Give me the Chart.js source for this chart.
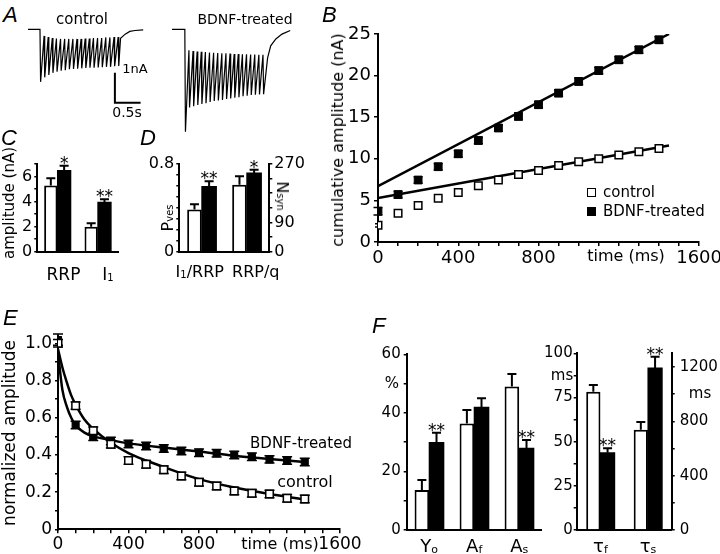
<!DOCTYPE html>
<html>
<head>
<meta charset="utf-8">
<script src="https://cdn.jsdelivr.net/npm/chart.js@4.4.1/dist/chart.umd.min.js"></script>
<style>
  html, body { margin: 0; padding: 0; background: #fff; overflow: hidden; }
  #fig { position: relative; width: 720px; height: 554px; overflow: hidden; background: #fff;
         font-family: "DejaVu Sans", sans-serif; color: #000; }
  #fig canvas { position: absolute; }
  .t { position: absolute; white-space: nowrap; line-height: 1; z-index: 2; }
  .c { transform: translate(-50%, -50%); }
  .l { transform: translate(0, -50%); }
  .rot { transform: translate(-50%, -50%) rotate(-90deg); }
  .rotcw { transform: translate(-50%, -50%) rotate(90deg); }
  .panel { font-family: "Liberation Sans", sans-serif; font-style: italic; font-size: 22px; }
  .t sub { font-size: 0.62em; vertical-align: -0.05em; }
  .sq { position: absolute; width: 9px; height: 9px; box-sizing: border-box; border: 1.5px solid #000; z-index: 2; }
</style>
</head>
<body>
<div id="fig">
  <!-- A -->
  <div class="t panel" style="left:3px;top:4px">A</div>
  <div class="t c" style="left:82px;top:19px;font-size:15px">control</div>
  <div class="t c" style="left:245px;top:19px;font-size:14px">BDNF-treated</div>
  <div class="t c" style="left:135px;top:68px;font-size:13px">1nA</div>
  <div class="t c" style="left:127px;top:112px;font-size:14px">0.5s</div>
  <!-- B -->
  <div class="t panel" style="left:322px;top:4px">B</div>
  <div class="t rot" style="left:338px;top:140px;font-size:16px">cumulative amplitude (nA)</div>
  <div class="t c" style="left:626px;top:256px;font-size:16px">time (ms)</div>
  <div class="sq" style="left:587px;top:188px;background:#fff"></div>
  <div class="t l" style="left:603px;top:192px;font-size:15px">control</div>
  <div class="sq" style="left:587px;top:207px;background:#000"></div>
  <div class="t l" style="left:603px;top:211px;font-size:15px">BDNF-treated</div>
  <!-- C -->
  <div class="t panel" style="left:1px;top:127px">C</div>
  <div class="t rot" style="left:9px;top:203px;font-size:15px">amplitude (nA)</div>
  <!-- D -->
  <div class="t panel" style="left:140px;top:127px">D</div>
  <div class="t rot" style="left:168px;top:218px;font-size:16px">P<sub>ves</sub></div>
  <div class="t rotcw" style="left:282px;top:196px;font-size:16px">N<sub>syn</sub></div>
  <!-- E -->
  <div class="t panel" style="left:3px;top:307px">E</div>
  <div class="t rot" style="left:9px;top:433px;font-size:17px">normalized amplitude</div>
  <div class="t c" style="left:280px;top:544px;font-size:16px">time (ms)</div>
  <div class="t c" style="left:301px;top:443px;font-size:15px">BDNF-treated</div>
  <div class="t c" style="left:305px;top:482px;font-size:16px">control</div>
  <!-- F -->
  <div class="t panel" style="left:372px;top:315px">F</div>
  <div class="t c" style="left:392px;top:383px;font-size:15px">%</div>
  <div class="t c" style="left:562px;top:375px;font-size:15px">ms</div>
  <div class="t c" style="left:700px;top:393px;font-size:15px">ms</div>
</div>
<script>
const FONT = '"DejaVu Sans", sans-serif';

// ===== A: example current traces (nA vs s) =====
const TRAIN_DT = 0.08;
const A_CTRL_START = 0;
const A_CTRL_ON = 0.233;
const A_CTRL_TOPS = [0, -0.22, -0.26, -0.29, -0.31, -0.32, -0.32, -0.32, -0.32, -0.32, -0.32, -0.31, -0.31, -0.29, -0.29, -0.29, -0.27, -0.27, -0.26, -0.26];
const A_CTRL_PEAKS = [-1.75, -1.60, -1.52, -1.45, -1.41, -1.38, -1.36, -1.33, -1.32, -1.31, -1.30, -1.29, -1.28, -1.28, -1.27, -1.26, -1.25, -1.25, -1.23, -1.22];
const A_CTRL_TAIL_T = [1.80, 1.89, 1.98, 2.08, 2.24];
const A_CTRL_TAIL_V = [-0.30, -0.16, -0.07, -0.04, -0.02];
const A_BDNF_START = 2.80;
const A_BDNF_ON = 3.05;
const A_BDNF_TOPS = [0, -0.70, -0.72, -0.74, -0.75, -0.76, -0.77, -0.78, -0.79, -0.80, -0.80, -0.81, -0.82, -0.82, -0.83, -0.83, -0.84, -0.84, -0.85, -0.85];
const A_BDNF_PEAKS = [-3.41, -2.60, -2.56, -2.52, -2.49, -2.46, -2.42, -2.39, -2.37, -2.35, -2.32, -2.30, -2.28, -2.26, -2.23, -2.21, -2.19, -2.18, -2.17, -2.16];
const A_BDNF_TAIL_T = [4.66, 4.72, 4.82, 4.94, 5.10];
const A_BDNF_TAIL_V = [-0.95, -0.55, -0.32, -0.16, -0.04];
const A_BAR_X = [1.69, 1.69, 2.19];   // 0.5 s
const A_BAR_Y = [-1.45, -2.45, -2.45]; // 1 nA

// ===== B: cumulative amplitude =====
const B_T = [0, 100, 200, 300, 400, 500, 600, 700, 800, 900, 1000, 1100, 1200, 1300, 1400];
const B_CTRL = [2.0, 3.45, 4.4, 5.25, 5.95, 6.75, 7.45, 8.1, 8.6, 9.2, 9.65, 10.0, 10.45, 10.85, 11.25];
const B_CTRL_ERR = [0.2, 0.2, 0.2, 0.2, 0.2, 0.2, 0.2, 0.2, 0.2, 0.2, 0.2, 0.2, 0.2, 0.2, 0.2];
const B_BDNF = [3.7, 5.7, 7.45, 9.05, 10.6, 12.2, 13.7, 15.1, 16.5, 17.9, 19.3, 20.6, 21.9, 23.1, 24.3];
const B_BDNF_ERR = [0.45, 0.4, 0.4, 0.4, 0.4, 0.4, 0.4, 0.4, 0.4, 0.4, 0.4, 0.4, 0.4, 0.4, 0.4];
const B_FIT_T = [0, 1450];
const B_FIT_CTRL = [5.3, 11.6];
const B_FIT_BDNF = [6.7, 25.0];
const B_Y_TICKS = [0, 5, 10, 15, 20, 25];
const B_X_TICKS = [0, 100, 200, 300, 400, 500, 600, 700, 800, 900, 1000, 1100, 1200, 1300, 1400, 1500, 1600];
const B_X_LABELS = [0, 400, 800, 1600];

// ===== C: amplitudes =====
const C_CATS = ['RRP', 'I_1'];
const C_CTRL = [5.3, 2.0];
const C_CTRL_ERR = [0.57, 0.27];
const C_BDNF = [6.5, 3.95];
const C_BDNF_ERR = [0.38, 0.25];
const C_SIG = ['*', '**'];
const C_Y_TICKS = [0, 1, 2, 3, 4, 5, 6, 7];
const C_Y_LABELS = [0, 2, 4, 6];

// ===== D: Pves and Nsyn =====
const D_CATS = ['I_1/RRP', 'RRP/q'];
const D_P_CTRL = [0.386, null];
const D_P_CTRL_ERR = [0.046, 0];
const D_P_BDNF = [0.595, null];
const D_P_BDNF_ERR = [0.048, 0];
const D_N_CTRL = [null, 206];
const D_N_CTRL_ERR = [0, 26];
const D_N_BDNF = [null, 242.5];
const D_N_BDNF_ERR = [0, 10];
const D_SIG = ['**', '*'];
const D_P_TICKS = [0, 0.1, 0.2, 0.3, 0.4, 0.5, 0.6, 0.7, 0.8];
const D_P_LABELS = [0, 0.8];
const D_N_TICKS = [0, 45, 90, 135, 180, 225, 270];
const D_N_LABELS = [0, 90, 270];

// ===== E: normalized amplitude =====
const E_T = [0, 100, 200, 300, 400, 500, 600, 700, 800, 900, 1000, 1100, 1200, 1300, 1400];
const E_CTRL = [1.0, 0.665, 0.53, 0.457, 0.37, 0.35, 0.32, 0.287, 0.253, 0.233, 0.206, 0.194, 0.19, 0.167, 0.163];
const E_CTRL_ERR = [0.02, 0.02, 0.02, 0.02, 0.02, 0.02, 0.02, 0.02, 0.02, 0.02, 0.02, 0.02, 0.02, 0.02, 0.02];
const E_BDNF = [1.02, 0.561, 0.498, 0.475, 0.459, 0.448, 0.434, 0.421, 0.412, 0.409, 0.40, 0.39, 0.376, 0.37, 0.362];
const E_BDNF_ERR = [0.03, 0.02, 0.02, 0.02, 0.02, 0.02, 0.02, 0.02, 0.02, 0.02, 0.02, 0.02, 0.02, 0.02, 0.02];
const E_FIT_T = [0, 25, 50, 75, 100, 150, 200, 300, 400, 500, 600, 800, 1000, 1200, 1400];
const E_FIT_CTRL = [0.97, 0.87, 0.79, 0.72, 0.67, 0.59, 0.54, 0.465, 0.41, 0.37, 0.335, 0.27, 0.225, 0.19, 0.16];
const E_FIT_BDNF = [0.95, 0.75, 0.66, 0.60, 0.56, 0.52, 0.50, 0.48, 0.462, 0.45, 0.44, 0.418, 0.396, 0.378, 0.362];
const E_Y_TICKS = [0, 0.1, 0.2, 0.3, 0.4, 0.5, 0.6, 0.7, 0.8, 0.9, 1.0];
const E_Y_LABELS = [0, 0.2, 0.4, 0.6, 0.8, 1.0];

// ===== F: fit parameters =====
const F_L_CATS = ['Y_o', 'A_f', 'A_s'];
const F_L_CTRL = [13.7, 36.4, 49.0];
const F_L_CTRL_ERR = [3.4, 4.6, 4.3];
const F_L_BDNF = [29.9, 41.9, 27.9];
const F_L_BDNF_ERR = [3.3, 3.1, 2.8];
const F_L_SIG = ['**', '', '**'];
const F_L_TICKS = [0, 10, 20, 30, 40, 50, 60];
const F_L_LABELS = [0, 20, 40, 60];
const F_R_CATS = ['τ_f', 'τ_s'];
const F_TAUF_CTRL = [78.3, null];
const F_TAUF_CTRL_ERR = [3.7, 0];
const F_TAUF_BDNF = [43.7, null];
const F_TAUF_BDNF_ERR = [2.5, 0];
const F_TAUS_CTRL = [null, 737];
const F_TAUS_CTRL_ERR = [0, 57];
const F_TAUS_BDNF = [null, 1192];
const F_TAUS_BDNF_ERR = [0, 82];
const F_R_SIG = ['**', '**'];
const F_MS_TICKS = [0, 12.5, 25, 37.5, 50, 62.5, 75, 87.5, 100];
const F_MS_LABELS = [0, 25, 50, 75, 100];
const F_MS2_TICKS = [0, 200, 400, 600, 800, 1000, 1200];
const F_MS2_LABELS = [0, 400, 800, 1200];

// ---------- helpers ----------
const xy = (xs, ys) => xs.map((x, i) => ({ x, y: ys[i] }));

function trainPoints(start, on, tops, peaks, tailT, tailV) {
    const pts = [{ x: start, y: 0 }];
    peaks.forEach((p, i) => {
        const t = on + i * TRAIN_DT;
        pts.push({ x: t, y: tops[i] });
        pts.push({ x: t + 0.012, y: p });
    });
    return pts.concat(xy(tailT, tailV));
}

function parseSub(s) {
    const out = [];
    let i = 0;
    while (i < s.length) {
        if (s[i] === '_') { out.push([s[i + 1], true]); i += 2; }
        else {
            let j = i;
            while (j < s.length && s[j] !== '_') j++;
            out.push([s.slice(i, j), false]);
            i = j;
        }
    }
    return out;
}

function drawRich(ctx, text, cx, baseY, size) {
    const segs = parseSub(text);
    const fonts = segs.map(s => `${s[1] ? Math.round(size * 0.6) : size}px ${FONT}`);
    let total = 0;
    const widths = segs.map((s, i) => { ctx.font = fonts[i]; const w = ctx.measureText(s[0]).width; total += w; return w; });
    let x = cx - total / 2;
    ctx.save();
    ctx.fillStyle = '#000';
    ctx.textAlign = 'left';
    ctx.textBaseline = 'alphabetic';
    segs.forEach((s, i) => {
        ctx.font = fonts[i];
        ctx.fillText(s[0], x, baseY + (s[1] ? 1 : 0));
        x += widths[i];
    });
    ctx.restore();
}

// error bars, significance stars, rich x labels
const extras = {
    id: 'extras',
    beforeDatasetsDraw(chart) {
        const ctx = chart.ctx;
        chart.data.datasets.forEach((ds, di) => {
            if (!ds.yErr) return;
            const meta = chart.getDatasetMeta(di);
            const ys = chart.scales[meta.yAxisID];
            ctx.save();
            ctx.strokeStyle = '#000';
            ctx.lineWidth = 1.5;
            meta.data.forEach((pt, i) => {
                const v = ds.data[i].y, e = ds.yErr[i];
                const y1 = ys.getPixelForValue(v + e), y2 = ys.getPixelForValue(v - e);
                const hw = ds.capW / 2;
                ctx.beginPath();
                ctx.moveTo(pt.x, y1); ctx.lineTo(pt.x, y2);
                ctx.moveTo(pt.x - hw, y1); ctx.lineTo(pt.x + hw, y1);
                ctx.moveTo(pt.x - hw, y2); ctx.lineTo(pt.x + hw, y2);
                ctx.stroke();
            });
            ctx.restore();
        });
    },
    afterDatasetsDraw(chart) {
        const ctx = chart.ctx;
        chart.data.datasets.forEach((ds, di) => {
            if (!ds.err) return;
            const meta = chart.getDatasetMeta(di);
            const ys = chart.scales[meta.yAxisID];
            meta.data.forEach((bar, i) => {
                const v = ds.data[i];
                if (v == null) return;
                const top = ys.getPixelForValue(v + ds.err[i]);
                ctx.save();
                ctx.strokeStyle = '#000';
                ctx.lineWidth = 2;
                ctx.beginPath();
                ctx.moveTo(bar.x, bar.y); ctx.lineTo(bar.x, top);
                ctx.moveTo(bar.x - 4.5, top); ctx.lineTo(bar.x + 4.5, top);
                ctx.stroke();
                if (ds.sig && ds.sig[i]) {
                    ctx.fillStyle = '#000';
                    ctx.font = `17px ${FONT}`;
                    ctx.textAlign = 'center';
                    ctx.textBaseline = 'alphabetic';
                    ctx.fillText(ds.sig[i], bar.x, top + 3);
                }
                ctx.restore();
            });
        });
    },
    afterDraw(chart, args, opts) {
        if (!opts || !opts.labels) return;
        const xs = chart.scales.x;
        opts.labels.forEach((lab, i) => drawRich(chart.ctx, lab,
            xs.getPixelForValue(i) + (opts.dx ? opts.dx[i] : 0), chart.chartArea.bottom + opts.dy, opts.size));
    }
};
Chart.register(extras);

function linAxis(o) {
    return {
        type: 'linear', position: o.pos || 'left', min: o.min, max: o.max,
        afterBuildTicks: ax => { ax.ticks = o.ticks.map(v => ({ value: v })); },
        afterFit: ax => { if (ax.isHorizontal()) ax.height = o.box; else ax.width = o.box; },
        ticks: {
            autoSkip: false, maxRotation: 0, padding: o.pad == null ? 3 : o.pad, color: '#000',
            font: { family: FONT, size: o.font || 16 },
            callback: v => o.labels.includes(v) ? (o.fmt ? o.fmt(v) : String(v)) : ''
        },
        grid: { display: true, drawOnChartArea: false, drawTicks: true, tickLength: o.tick || 4, color: '#000', lineWidth: 1.5 },
        border: { display: true, color: '#000', width: 2 }
    };
}

function catAxis(h) {
    return {
        type: 'category', position: 'bottom', offset: true,
        afterFit: ax => { ax.height = h; },
        ticks: { display: false },
        grid: { display: false, drawTicks: false },
        border: { display: true, color: '#000', width: 2 }
    };
}

// open bars get a drawn outline; solid bars are filled only (no inner seam)
function barSet(data, err, sig, fill, axis, pct) {
    const solid = fill === '#000';
    return {
        data, err, sig, yAxisID: axis, backgroundColor: fill, borderColor: '#000',
        borderWidth: solid ? 0 : 2, inflateAmount: solid ? 0.5 : 0,
        barPercentage: 1, categoryPercentage: pct, skipNull: true
    };
}

function addChart(left, top, w, h, config) {
    const c = document.createElement('canvas');
    c.width = w; c.height = h;
    c.style.left = left + 'px'; c.style.top = top + 'px';
    c.style.width = w + 'px'; c.style.height = h + 'px';
    document.getElementById('fig').appendChild(c);
    config.options = Object.assign({ responsive: false, animation: false, devicePixelRatio: 1, events: [] }, config.options);
    config.options.plugins = Object.assign({ legend: { display: false }, tooltip: { enabled: false } }, config.options.plugins);
    return new Chart(c, config);
}

const noLegend = { legend: { display: false }, tooltip: { enabled: false } };

// ---------- A ----------
addChart(28, 20, 272, 115, {
    type: 'scatter',
    data: { datasets: [
        { data: trainPoints(A_CTRL_START, A_CTRL_ON, A_CTRL_TOPS, A_CTRL_PEAKS, A_CTRL_TAIL_T, A_CTRL_TAIL_V), showLine: true, pointRadius: 0, borderColor: '#000', borderWidth: 1.2 },
        { data: trainPoints(A_BDNF_START, A_BDNF_ON, A_BDNF_TOPS, A_BDNF_PEAKS, A_BDNF_TAIL_T, A_BDNF_TAIL_V), showLine: true, pointRadius: 0, borderColor: '#000', borderWidth: 1.2 },
        { data: xy(A_BAR_X, A_BAR_Y), showLine: true, pointRadius: 0, borderColor: '#000', borderWidth: 2 }
    ] },
    options: {
        layout: { padding: 0 },
        scales: {
            x: { type: 'linear', display: false, min: 0, max: 5.29 },
            y: { type: 'linear', display: false, min: -3.52, max: 0.31 }
        }
    }
});

// ---------- B ----------
addChart(320, 20, 404, 262, {
    type: 'scatter',
    data: { datasets: [
        { data: xy(B_T, B_BDNF), yErr: B_BDNF_ERR, capW: 9, pointStyle: 'rect', pointRadius: 5.5, pointBackgroundColor: '#000', pointBorderColor: '#000', pointBorderWidth: 1 },
        { data: xy(B_T, B_CTRL), yErr: B_CTRL_ERR, capW: 6, pointStyle: 'rect', pointRadius: 5.3, pointBackgroundColor: '#fff', pointBorderColor: '#000', pointBorderWidth: 1.5 },
        { data: xy(B_FIT_T, B_FIT_BDNF), showLine: true, pointRadius: 0, borderColor: '#000', borderWidth: 2.5 },
        { data: xy(B_FIT_T, B_FIT_CTRL), showLine: true, pointRadius: 0, borderColor: '#000', borderWidth: 2.5 }
    ] },
    options: {
        layout: { padding: { left: 0, top: 14, right: 24, bottom: 0 } },
        scales: {
            x: linAxis({ pos: 'bottom', min: 0, max: 1600, ticks: B_X_TICKS, labels: B_X_LABELS, box: 40, font: 18, pad: 2 }),
            y: linAxis({ min: 0, max: 25, ticks: B_Y_TICKS, labels: B_Y_TICKS, box: 58, font: 18, pad: 3 })
        }
    }
});

// ---------- C ----------
addChart(0, 140, 125, 146, {
    type: 'bar',
    data: { labels: C_CATS, datasets: [
        barSet(C_CTRL, C_CTRL_ERR, null, '#fff', 'y', 0.66),
        barSet(C_BDNF, C_BDNF_ERR, C_SIG, '#000', 'y', 0.66)
    ] },
    options: {
        layout: { padding: { left: 0, top: 24.2, right: 7, bottom: 0 } },
        plugins: Object.assign({ extras: { labels: C_CATS, dx: [6, 10], dy: 28.3, size: 17 } }, noLegend),
        scales: {
            x: catAxis(34.3),
            y: linAxis({ min: 0, max: 7, ticks: C_Y_TICKS, labels: C_Y_LABELS, box: 37.3, font: 16, tick: 3, pad: 2 })
        }
    }
});

// ---------- D ----------
addChart(125, 140, 185, 146, {
    type: 'bar',
    data: { labels: D_CATS, datasets: [
        barSet(D_P_CTRL, D_P_CTRL_ERR, null, '#fff', 'y', 0.65),
        barSet(D_P_BDNF, D_P_BDNF_ERR, [D_SIG[0], ''], '#000', 'y', 0.65),
        barSet(D_N_CTRL, D_N_CTRL_ERR, null, '#fff', 'y2', 0.65),
        barSet(D_N_BDNF, D_N_BDNF_ERR, ['', D_SIG[1]], '#000', 'y2', 0.65)
    ] },
    options: {
        layout: { padding: { left: 0, top: 24, right: 0, bottom: 0 } },
        plugins: Object.assign({ extras: { labels: D_CATS, dx: [-2, 9], dy: 25, size: 16 } }, noLegend),
        scales: {
            x: catAxis(34.3),
            y: linAxis({ min: 0, max: 0.8, ticks: D_P_TICKS, labels: D_P_LABELS, box: 54.3, font: 16, tick: 3, pad: 2 }),
            y2: linAxis({ pos: 'right', min: 0, max: 270, ticks: D_N_TICKS, labels: D_N_LABELS, box: 40.7, font: 16, tick: 3, pad: 2 })
        }
    }
});

// ---------- E ----------
addChart(0, 300, 364, 254, {
    type: 'scatter',
    data: { datasets: [
        { data: xy(E_T, E_CTRL), yErr: E_CTRL_ERR, capW: 10, pointStyle: 'rect', pointRadius: 5.3, pointBackgroundColor: '#fff', pointBorderColor: '#000', pointBorderWidth: 1.5 },
        { data: xy(E_T, E_BDNF), yErr: E_BDNF_ERR, capW: 10, pointStyle: 'rect', pointRadius: 5, pointBackgroundColor: '#000', pointBorderColor: '#000', pointBorderWidth: 1 },
        { data: xy(E_FIT_T, E_FIT_CTRL), showLine: true, pointRadius: 0, borderColor: '#000', borderWidth: 2.5, cubicInterpolationMode: 'monotone' },
        { data: xy(E_FIT_T, E_FIT_BDNF), showLine: true, pointRadius: 0, borderColor: '#000', borderWidth: 2.5, cubicInterpolationMode: 'monotone' }
    ] },
    options: {
        layout: { padding: { left: 0, top: 35.9, right: 24, bottom: 0 } },
        scales: {
            x: linAxis({ pos: 'bottom', min: 0, max: 1600, ticks: B_X_TICKS, labels: B_X_LABELS, box: 24.7, font: 17, pad: 1 }),
            y: linAxis({ min: 0, max: 1.04, ticks: E_Y_TICKS, labels: E_Y_LABELS, box: 58, font: 17, tick: 3, pad: 3,
                fmt: v => v === 0 ? '0' : v.toFixed(1) })
        }
    }
});

// ---------- F (percent parameters) ----------
addChart(360, 300, 185, 254, {
    type: 'bar',
    data: { labels: F_L_CATS, datasets: [
        barSet(F_L_CTRL, F_L_CTRL_ERR, null, '#fff', 'y', 0.65),
        barSet(F_L_BDNF, F_L_BDNF_ERR, F_L_SIG, '#000', 'y', 0.65)
    ] },
    options: {
        layout: { padding: { left: 0, top: 54.3, right: 3.3, bottom: 0 } },
        plugins: Object.assign({ extras: { labels: F_L_CATS, dy: 22, size: 18 } }, noLegend),
        scales: {
            x: catAxis(24),
            y: linAxis({ min: 0, max: 60, ticks: F_L_TICKS, labels: F_L_LABELS, box: 46.7, font: 15, tick: 3, pad: 3 })
        }
    }
});

// ---------- F (time constants) ----------
addChart(543, 300, 177, 254, {
    type: 'bar',
    data: { labels: F_R_CATS, datasets: [
        barSet(F_TAUF_CTRL, F_TAUF_CTRL_ERR, null, '#fff', 'y', 0.6),
        barSet(F_TAUF_BDNF, F_TAUF_BDNF_ERR, [F_R_SIG[0], ''], '#000', 'y', 0.6),
        barSet(F_TAUS_CTRL, F_TAUS_CTRL_ERR, null, '#fff', 'y2', 0.6),
        barSet(F_TAUS_BDNF, F_TAUS_BDNF_ERR, ['', F_R_SIG[1]], '#000', 'y2', 0.6)
    ] },
    options: {
        layout: { padding: { left: 0, top: 53.3, right: 0, bottom: 0 } },
        plugins: Object.assign({ extras: { labels: F_R_CATS, dy: 22, size: 18 } }, noLegend),
        scales: {
            x: catAxis(24),
            y: linAxis({ min: 0, max: 100, ticks: F_MS_TICKS, labels: F_MS_LABELS, box: 33.7, font: 15, tick: 3, pad: 1 }),
            y2: linAxis({ pos: 'right', min: 0, max: 1300, ticks: F_MS2_TICKS, labels: F_MS2_LABELS, box: 48.3, font: 15, tick: 3, pad: 5 })
        }
    }
});
</script>
</body>
</html>
